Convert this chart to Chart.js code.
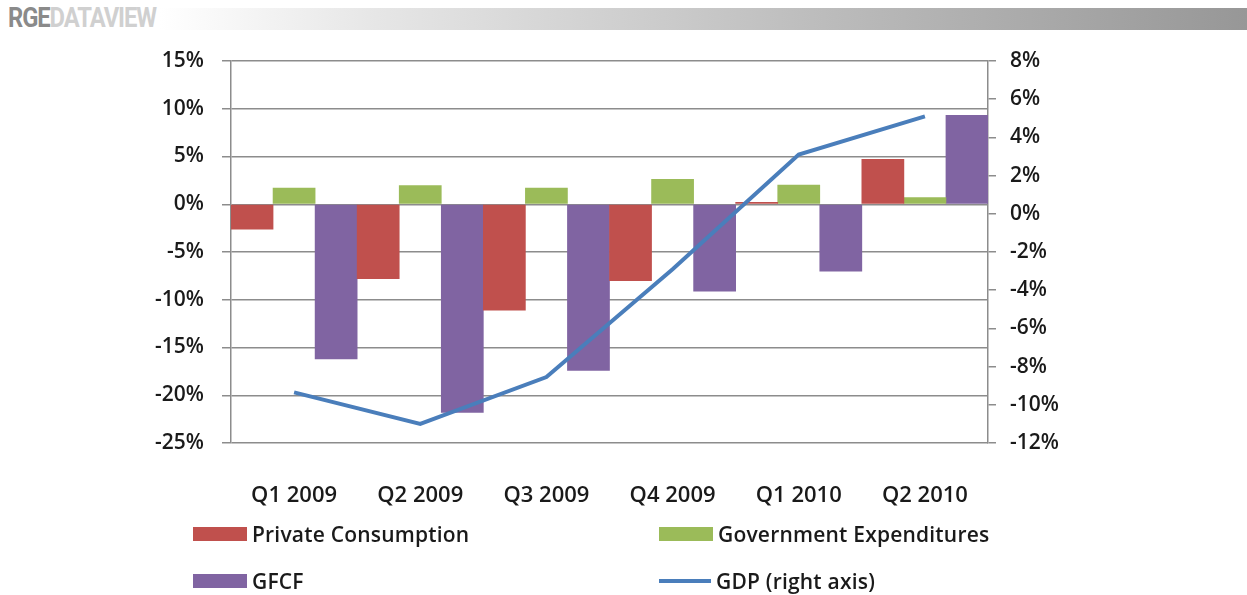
<!DOCTYPE html>
<html>
<head>
<meta charset="utf-8">
<script src="https://cdn.jsdelivr.net/npm/chart.js@4.4.1/dist/chart.umd.min.js"></script>
<style>
  body { margin: 0; background: #fff; width: 1247px; height: 595px; overflow: hidden; position: relative; font-family: "Open Sans", sans-serif; }
  #header { position: absolute; left: 0; top: 0; width: 1247px; height: 36px; }
  #bar { position: absolute; left: 160px; top: 8px; width: 1087px; height: 22px;
         background: linear-gradient(to right, #ffffff 0%, #e6e6e6 20%, #bdbdbd 60%, #979797 100%); }
  #logo { position: absolute; left: 8px; top: 2px; font-family: Roboto, "DejaVu Sans Condensed", sans-serif;
          font-weight: bold; font-size: 27px; letter-spacing: -1.2px; transform: scaleX(0.88); transform-origin: left; }
  #logo .a { color: #8a8a8a; }
  #logo .b { color: #d0d0d0; }
  #wrap { position: absolute; left: 0; top: 0; }
  #legend { position: absolute; left: 0; top: 0; width: 1247px; height: 595px; pointer-events: none; }
  .item { position: absolute; display: flex; align-items: center; font-weight: 600; font-size: 21px; color: #1a1a1a; letter-spacing: 0.2px; }
  .sw { width: 54px; height: 14px; margin-right: 5px; }
  .ln { width: 52px; height: 4px; margin-right: 5px; }
</style>
</head>
<body>
<div id="header">
  <div id="bar"></div>
  <div id="logo"><span class="a">RGE</span><span class="b">DATAVIEW</span></div>
</div>
<div id="wrap"><canvas id="c" width="1247" height="515"></canvas></div>
<div id="legend"></div>
<script>
// Datos (en %)
const trimestres = ['Q1 2009', 'Q2 2009', 'Q3 2009', 'Q4 2009', 'Q1 2010', 'Q2 2010'];
const consumoPrivado = [-2.6, -7.8, -11.1, -8.0, 0.2, 4.7];
const gastoGobierno = [1.7, 1.95, 1.7, 2.6, 2.0, 0.7];
const gfcf = [-16.2, -21.8, -17.4, -9.1, -7.0, 9.3];
const pib = [-9.35, -11.0, -8.55, -2.9, 3.1, 5.1];

const gris = '#8c8c8c';
const fuenteTicks = { family: 'Open Sans', size: 21, weight: '600' };

const ctx = document.getElementById('c').getContext('2d');
const chart = new Chart(ctx, {
    type: 'bar',
    data: {
        labels: trimestres,
        datasets: [
            {
                type: 'line',
                label: 'GDP (right axis)',
                data: pib,
                yAxisID: 'y2',
                borderColor: '#4a7ebb',
                backgroundColor: '#4a7ebb',
                borderWidth: 4,
                pointRadius: 0,
                tension: 0,
                order: 0
            },
            {
                label: 'Private Consumption',
                data: consumoPrivado,
                backgroundColor: '#c0504d',
                yAxisID: 'y',
                order: 1
            },
            {
                label: 'Government Expenditures',
                data: gastoGobierno,
                backgroundColor: '#9bbb59',
                yAxisID: 'y',
                order: 1
            },
            {
                label: 'GFCF',
                data: gfcf,
                backgroundColor: '#8064a2',
                yAxisID: 'y',
                order: 1
            }
        ]
    },
    options: {
        responsive: false,
        animation: false,
        devicePixelRatio: 1,
        datasets: { bar: { categoryPercentage: 1, barPercentage: 1 } },
        layout: { padding: { top: 61, left: 0, right: 0, bottom: 0 } },
        plugins: { legend: { display: false }, tooltip: { enabled: false } },
        scales: {
            x: {
                grid: { display: false },
                border: { display: false },
                ticks: { color: '#1a1a1a', font: { family: 'Open Sans', size: 22, weight: '600' }, padding: 32, maxRotation: 0 },
                afterFit: s => { s.height = 72; }
            },
            y: {
                position: 'left',
                min: -25, max: 15,
                ticks: { stepSize: 5, color: '#1a1a1a', font: fuenteTicks, padding: 18,
                         callback: v => v + '%' },
                grid: { color: gris, lineWidth: 1.5, tickLength: 9 },
                border: { color: gris, width: 1.5 },
                afterFit: s => { s.width = 231; }
            },
            y2: {
                position: 'right',
                min: -12, max: 8,
                ticks: { stepSize: 2, color: '#1a1a1a', font: fuenteTicks, padding: 14,
                         callback: v => v + '%' },
                grid: { drawOnChartArea: false, color: gris, lineWidth: 1.5, tickLength: 8 },
                border: { color: gris, width: 1.5 },
                afterFit: s => { s.width = 259; }
            }
        }
    }
});

// Leyenda en HTML (2x2 como en el original)
const posiciones = {
    'Private Consumption': [193, 535],
    'Government Expenditures': [659, 535],
    'GFCF': [193, 582],
    'GDP (right axis)': [659, 582]
};
const leyenda = document.getElementById('legend');
chart.data.datasets.forEach(ds => {
    const p = posiciones[ds.label];
    const item = document.createElement('div');
    item.className = 'item';
    item.style.left = p[0] + 'px';
    item.style.top = (p[1] - 16) + 'px';
    item.style.height = '30px';
    const sw = document.createElement('div');
    sw.className = ds.type === 'line' ? 'ln' : 'sw';
    sw.style.background = ds.type === 'line' ? ds.borderColor : ds.backgroundColor;
    item.appendChild(sw);
    item.appendChild(document.createTextNode(ds.label));
    leyenda.appendChild(item);
});
</script>
</body>
</html>
